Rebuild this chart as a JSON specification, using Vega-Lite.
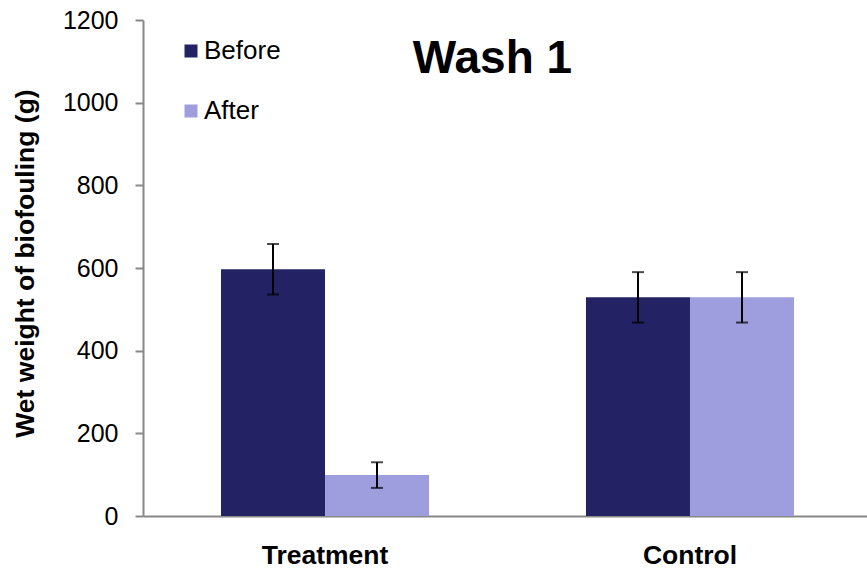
{
  "$schema": "https://vega.github.io/schema/vega-lite/v6.json",
  "autosize": {"type": "none"},
  "width": 729,
  "height": 496,
  "padding": {"left": 143, "top": 20, "right": 0, "bottom": 54},
  "background": "white",
  "config": {
    "view": {"stroke": null},
    "font": "Liberation Sans"
  },
  "data": {
    "values": [
      {"group": "Treatment", "period": "Before", "value": 597, "lo": 536, "hi": 658},
      {"group": "Treatment", "period": "After", "value": 99, "lo": 68, "hi": 130},
      {"group": "Control", "period": "Before", "value": 529, "lo": 468, "hi": 590},
      {"group": "Control", "period": "After", "value": 529, "lo": 468, "hi": 590}
    ]
  },
  "encoding": {
    "x": {
      "field": "group",
      "type": "nominal",
      "sort": ["Treatment", "Control"],
      "scale": {"paddingInner": 0.43, "paddingOuter": 0.2137},
      "axis": {
        "title": "Wash 1",
        "titleFontSize": 46,
        "titleFontWeight": "bold",
        "titleColor": "black",
        "titleX": 349,
        "titleY": -444,
        "titleAlign": "center",
        "titleBaseline": "alphabetic",
        "labelAngle": 0,
        "labelFontSize": 26.5,
        "labelFontWeight": "bold",
        "labelColor": "black",
        "labelPadding": 26,
        "ticks": false,
        "tickSize": 0,
        "domainColor": "#888888",
        "domainWidth": 2
      }
    },
    "xOffset": {
      "field": "period",
      "type": "nominal",
      "sort": ["Before", "After"],
      "scale": {"paddingInner": 0, "paddingOuter": 0}
    }
  },
  "layer": [
    {
      "mark": {"type": "bar"},
      "encoding": {
        "y": {
          "field": "value",
          "type": "quantitative",
          "scale": {"domain": [0, 1200], "nice": false},
          "axis": {
            "title": "Wet weight of biofouling (g)",
            "titleFontSize": 26.5,
            "titleFontWeight": "bold",
            "titleColor": "black",
            "titleX": -118,
            "titleY": 243,
            "titleBaseline": "middle",
            "values": [0, 200, 400, 600, 800, 1000, 1200],
            "format": "d",
            "grid": false,
            "labelFontSize": 25,
            "labelColor": "black",
            "labelPadding": 17,
            "tickSize": 8,
            "tickColor": "#888888",
            "tickWidth": 2,
            "domainColor": "#888888",
            "domainWidth": 2
          }
        },
        "color": {
          "field": "period",
          "type": "nominal",
          "sort": ["Before", "After"],
          "scale": {"domain": ["Before", "After"], "range": ["#222264", "#9e9ede"]},
          "legend": {
            "title": null,
            "orient": "none",
            "legendX": 35,
            "legendY": 18,
            "direction": "vertical",
            "symbolType": "square",
            "symbolSize": 169,
            "symbolStrokeWidth": 0,
            "labelFontSize": 26,
            "labelColor": "black",
            "labelOffset": 0,
            "rowPadding": 34,
            "padding": 0
          }
        }
      }
    },
    {
      "mark": {"type": "rule", "color": "black", "strokeWidth": 2},
      "encoding": {
        "y": {"field": "lo", "type": "quantitative"},
        "y2": {"field": "hi"}
      }
    },
    {
      "mark": {"type": "tick", "color": "black", "thickness": 2, "size": 12, "orient": "horizontal"},
      "encoding": {
        "y": {"field": "lo", "type": "quantitative"}
      }
    },
    {
      "mark": {"type": "tick", "color": "black", "thickness": 2, "size": 12, "orient": "horizontal"},
      "encoding": {
        "y": {"field": "hi", "type": "quantitative"}
      }
    }
  ]
}
